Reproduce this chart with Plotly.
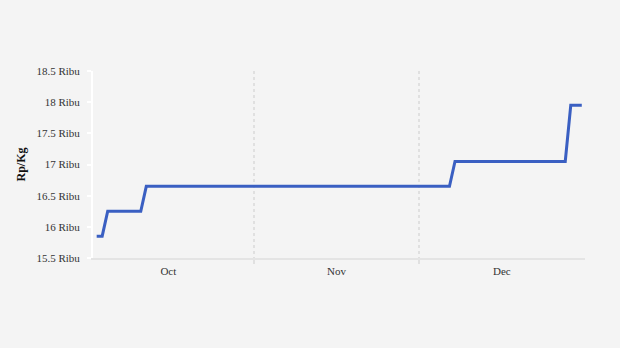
import plotly.graph_objects as go

dates = [
    "2023-10-03 12:00", "2023-10-04 12:00", "2023-10-05 12:00",
    "2023-10-11 12:00", "2023-10-12 12:00", "2023-12-06 12:00",
    "2023-12-07 12:00", "2023-12-27 12:00", "2023-12-28 12:00",
    "2023-12-30 12:00",
]
prices = [15850, 15850, 16250, 16250, 16650, 16650, 17050, 17050, 17950, 17950]

y_tickvals = [15500, 16000, 16500, 17000, 17500, 18000, 18500]
y_ticktext = ["15.5 Ribu", "16 Ribu", "16.5 Ribu", "17 Ribu", "17.5 Ribu", "18 Ribu", "18.5 Ribu"]

fig = go.Figure()
fig.add_trace(go.Scatter(
    x=dates, y=prices, mode="lines",
    line=dict(color="#3a5fc2", width=3),
    hoverinfo="x+y",
))

font_family = "Liberation Serif, Times New Roman, serif"

fig.update_layout(
    width=620, height=348,
    margin=dict(l=93, r=35, t=71, b=90),
    paper_bgcolor="#f4f4f4", plot_bgcolor="#f4f4f4",
    showlegend=False,
    font=dict(family=font_family, size=11, color="#333333"),
    xaxis=dict(
        type="date",
        range=["2023-10-02 20:00", "2023-12-31 02:00"],
        tick0="2023-10-01", dtick="M1",
        ticklabelmode="period", tickformat="%b",
        showgrid=True, gridcolor="#e0e0e0", griddash="dot", gridwidth=2,
        ticks="outside", ticklen=4, tickcolor="#e0e0e0", tickwidth=2,
        ticklabelstandoff=-2,
        showline=True, linecolor="#e4e4e4", linewidth=2,
        zeroline=False,
        tickfont=dict(family=font_family, size=11, color="#333333"),
    ),
    yaxis=dict(
        range=[15500, 18500],
        tickvals=y_tickvals, ticktext=y_ticktext,
        showgrid=False, zeroline=False,
        showline=True, linecolor="#ffffff", linewidth=2,
        ticks="outside", ticklen=4, tickcolor="#ffffff", tickwidth=2,
        ticklabelstandoff=5,
        tickfont=dict(family=font_family, size=11, color="#333333"),
        title=dict(text="<b>Rp/Kg</b>", font=dict(family=font_family, size=12, color="#111111"), standoff=8),
    ),
)

fig.write_html("out.html")
